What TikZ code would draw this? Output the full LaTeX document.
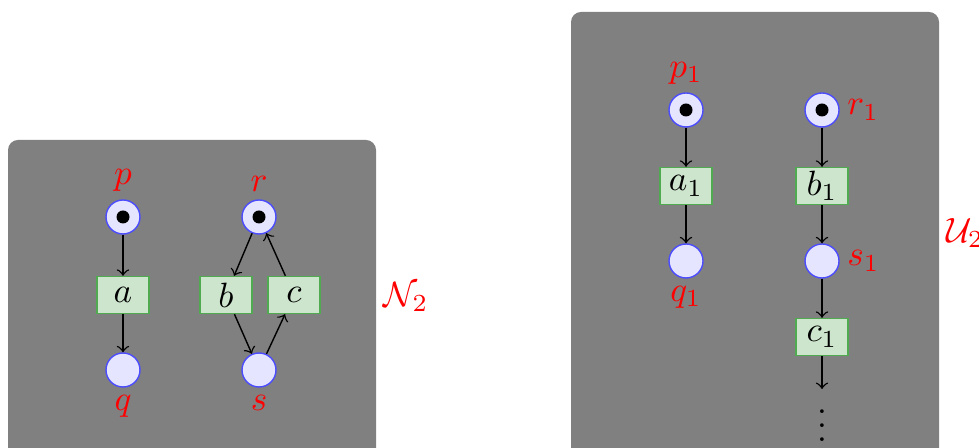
\documentclass[tikz,border=0pt]{standalone}
\usepackage{amsmath,amssymb}
\usepackage{xcolor}
\usetikzlibrary{petri}

\definecolor{transborder}{RGB}{80,170,80}

\tikzset{
  place/.style={circle, draw=blue!70, fill=blue!10, minimum size=3.4mm, inner sep=0pt},
  transition/.style={rectangle, draw=transborder, fill=green!50!black!20, minimum width=5.2mm, minimum height=3.7mm, inner sep=0pt},
  netbox/.style={fill=gray, rounded corners=1mm},
  every token/.style={minimum size=1.3mm},
  every label/.style={text=red, inner sep=2pt}
}

\begin{document}
\begin{tikzpicture}
\useasboundingbox (0,0) rectangle (9.79,4.48);

% left
\fill[netbox] (0.08,3.08) rectangle (3.76,-0.3);

\node[place, tokens=1, label=above:$p$] (p) at (1.23,2.31) {};
\node[transition] (a) at (1.23,1.53) {$a$};
\node[place, label=below:$q$] (q) at (1.23,0.78) {};

\node[place, tokens=1, label=above:$r$] (r) at (2.59,2.31) {};
\node[transition] (b) at (2.26,1.53) {$b$};
\node[transition] (c) at (2.94,1.53) {$c$};
\node[place, label=below:$s$] (s) at (2.59,0.78) {};

\draw[->] (p) -- (a);
\draw[->] (a) -- (q);
\draw[->] (r) -- (b);
\draw[->] (b) -- (s);
\draw[->] (s) -- (c);
\draw[->] (c) -- (r);

\node[text=red] (N2) at (4.06,1.51) {$\mathcal{N}_2$};

% right
\fill[netbox] (5.71,4.36) rectangle (9.39,-0.3);

\node[place, tokens=1, label=above:$p_1$] (p1) at (6.86,3.38) {};
\node[transition] (a1) at (6.86,2.62) {$a_1$};
\node[place, label=below:$q_1$] (q1) at (6.86,1.87) {};

\node[place, tokens=1, label=right:$r_1$] (r1) at (8.22,3.38) {};
\node[transition] (b1) at (8.22,2.62) {$b_1$};
\node[place, label=right:$s_1$] (s1) at (8.22,1.87) {};
\node[transition] (c1) at (8.22,1.11) {$c_1$};
\coordinate (c1end) at (8.22,0.59);
\node (dots) at (8.22,0.33) {$\vdots$};

\draw[->] (p1) -- (a1);
\draw[->] (a1) -- (q1);
\draw[->] (r1) -- (b1);
\draw[->] (b1) -- (s1);
\draw[->] (s1) -- (c1);
\draw[->] (c1) -- (c1end);

\node[text=red] (U2) at (9.65,2.15) {$\mathcal{U}_2$};

\end{tikzpicture}
\end{document}
